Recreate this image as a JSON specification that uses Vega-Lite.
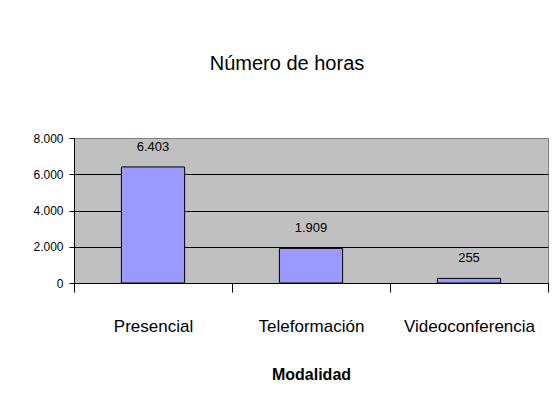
{
  "$schema": "https://vega.github.io/schema/vega-lite/v6.json",
  "autosize": {"type": "none"},
  "width": 474,
  "height": 145,
  "padding": {"left": 74, "top": 138, "right": 5, "bottom": 131},
  "background": "white",
  "title": {
    "text": "Número de horas",
    "font": "Liberation Sans, Arial, sans-serif",
    "fontSize": 20,
    "fontWeight": "normal",
    "color": "black",
    "anchor": "middle",
    "dx": -24,
    "offset": 58
  },
  "data": {
    "values": [
      {"Modalidad": "Presencial", "horas": 6403, "etiqueta": "6.403"},
      {"Modalidad": "Teleformación", "horas": 1909, "etiqueta": "1.909"},
      {"Modalidad": "Videoconferencia", "horas": 255, "etiqueta": "255"}
    ]
  },
  "encoding": {
    "x": {
      "field": "Modalidad",
      "type": "nominal",
      "sort": null,
      "scale": {"paddingInner": 0, "paddingOuter": 0},
      "axis": {
        "title": "Modalidad",
        "labelAngle": 0,
        "labelFont": "Liberation Sans, Arial, sans-serif",
        "labelFontSize": 17,
        "labelColor": "black",
        "labelPadding": 26,
        "tickBand": "extent",
        "tickSize": 9,
        "tickColor": "black",
        "domainColor": "black",
        "titleFont": "Liberation Sans, Arial, sans-serif",
        "titleFontSize": 16,
        "titleFontWeight": "bold",
        "titleColor": "black",
        "titlePadding": 32
      }
    },
    "y": {
      "field": "horas",
      "type": "quantitative",
      "scale": {"domain": [0, 8000], "nice": false},
      "axis": {
        "title": null,
        "values": [0, 2000, 4000, 6000, 8000],
        "format": ",d",
        "labelExpr": "replace(datum.label, ',', '.')",
        "labelFont": "Liberation Sans, Arial, sans-serif",
        "labelFontSize": 12,
        "labelColor": "black",
        "labelPadding": 6,
        "tickSize": 5,
        "tickColor": "black",
        "domainColor": "black",
        "grid": true,
        "gridColor": {"condition": {"test": "datum.value === 8000", "value": "#808080"}, "value": "black"},
        "gridOpacity": 1,
        "gridWidth": 1
      }
    }
  },
  "layer": [
    {
      "mark": {"type": "bar", "color": "#9999FF", "stroke": "black", "strokeWidth": 1, "width": {"band": 0.4}}
    },
    {
      "mark": {
        "type": "text",
        "baseline": "alphabetic",
        "dy": -16,
        "font": "Liberation Sans, Arial, sans-serif",
        "fontSize": 13,
        "color": "black"
      },
      "encoding": {"text": {"field": "etiqueta"}}
    }
  ],
  "config": {
    "view": {"fill": "#C0C0C0", "stroke": "#808080", "strokeWidth": 1}
  }
}
